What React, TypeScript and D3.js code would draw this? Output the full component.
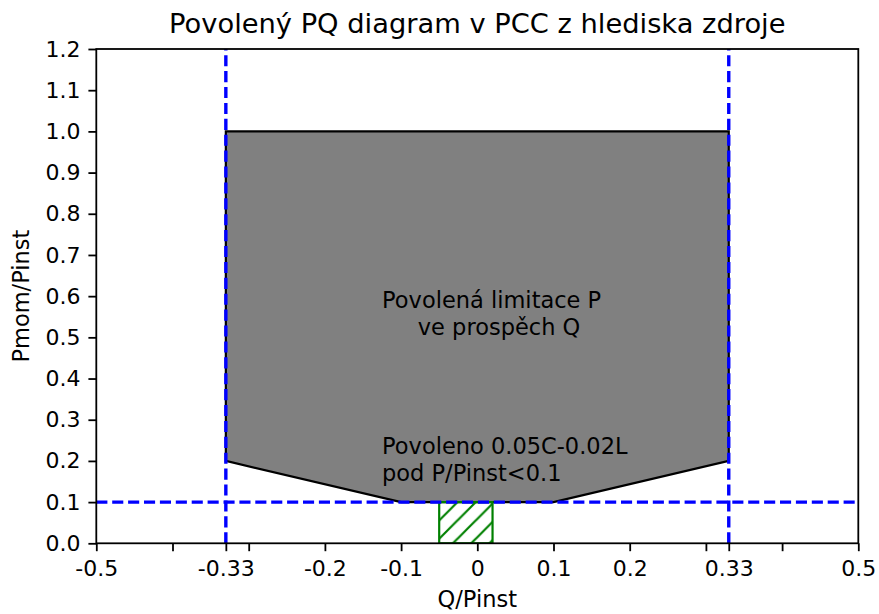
import React, { useEffect, useRef } from 'react';
import * as d3 from 'd3';

const W = 879;
const H = 614;
const PLOT = { left: 96.3, right: 858.3, top: 49, bottom: 543.3 };
const FONT = '"DejaVu Sans", sans-serif';

const TITLE = 'Povolený PQ diagram v PCC z hlediska zdroje';
const X_LABEL = 'Q/Pinst';
const Y_LABEL = 'Pmom/Pinst';

const X_DOMAIN = [-0.5, 0.5];
const Y_DOMAIN = [0, 1.2];
const X_TICKS = [-0.5, -0.4, -0.33, -0.3, -0.2, -0.1, 0, 0.1, 0.2, 0.3, 0.33, 0.4, 0.5];
const X_TICK_LABELS = ['-0.5', '', '-0.33', '', '-0.2', '-0.1', '0', '0.1', '0.2', '', '0.33', '', '0.5'];
const Y_TICKS = [0, 0.1, 0.2, 0.3, 0.4, 0.5, 0.6, 0.7, 0.8, 0.9, 1.0, 1.1, 1.2];

// allowed P-limitation region, vertices as (Q, P)
const REGION_Q = [-0.33, 0.33, 0.33, 0.1, -0.1, -0.33];
const REGION_P = [1.0, 1.0, 0.2, 0.1, 0.1, 0.2];

// reactive band allowed below P/Pinst < 0.1
const BAND_Q = [-0.05, 0.02];
const BAND_P = [0, 0.1];

// limit lines
const LIMIT_Q = [-0.33, 0.33];
const LIMIT_P = [0.1];

// annotations: anchor (Q, P) of first line baseline, and the lines
const NOTE_REGION_AT = [-0.125, 0.571];
const NOTE_REGION_LINES = ['Povolená limitace P', '     ve prospěch Q'];
const NOTE_BAND_AT = [-0.125, 0.217];
const NOTE_BAND_LINES = ['Povoleno 0.05C-0.02L', 'pod P/Pinst<0.1'];

const TICK_FONT = 22;
const LINE_GAP = 27;
const HATCH = 18.3;

export default function App() {
  const xAxisRef = useRef<SVGGElement>(null);
  const yAxisRef = useRef<SVGGElement>(null);

  const x = d3.scaleLinear().domain(X_DOMAIN).range([PLOT.left, PLOT.right]);
  const y = d3.scaleLinear().domain(Y_DOMAIN).range([PLOT.bottom, PLOT.top]);

  useEffect(() => {
    document.body.style.margin = '0';
    const xAxis = d3
      .axisBottom(x)
      .tickValues(X_TICKS)
      .tickFormat((_d, i) => X_TICK_LABELS[i])
      .tickSize(7.9)
      .tickSizeOuter(0)
      .tickPadding(9.3);
    const yAxis = d3
      .axisLeft(y)
      .tickValues(Y_TICKS)
      .tickFormat(d3.format('.1f'))
      .tickSize(7.9)
      .tickSizeOuter(0)
      .tickPadding(7.9);
    const gx = d3.select(xAxisRef.current!).call(xAxis);
    const gy = d3.select(yAxisRef.current!).call(yAxis);
    [gx, gy].forEach((g) => {
      g.select('.domain').remove();
      g.attr('font-family', FONT).attr('font-size', TICK_FONT);
      g.selectAll('.tick line').attr('stroke', '#000').attr('stroke-width', 1.8);
      g.selectAll('.tick text').attr('fill', '#000');
    });
  }, []);

  const regionPath = d3.line<number>()
    .x((i) => x(REGION_Q[i]))
    .y((i) => y(REGION_P[i]))(d3.range(REGION_Q.length)) + 'Z';

  const bx0 = x(BAND_Q[0]);
  const bx1 = x(BAND_Q[1]);
  const by0 = y(BAND_P[1]);
  const by1 = y(BAND_P[0]);

  const dash = '11.1 4.8';

  const note = (at: number[], lines: string[]) => (
    <text
      x={x(at[0])}
      y={y(at[1])}
      fontFamily={FONT}
      fontSize={22.5}
      fill="#000"
      style={{ whiteSpace: 'pre' }}
    >
      {lines.map((l, i) => (
        <tspan key={i} x={x(at[0])} y={y(at[1]) + i * LINE_GAP}>
          {l}
        </tspan>
      ))}
    </text>
  );

  return (
    <svg width={W} height={H} style={{ display: 'block', background: '#fff' }}>
      <defs>
        <pattern
          id="hatch"
          patternUnits="userSpaceOnUse"
          x={bx0}
          y={by0}
          width={HATCH}
          height={HATCH}
        >
          <path
            d={`M-2,2 L2,-2 M0,${HATCH} L${HATCH},0 M${HATCH - 2},${HATCH + 2} L${HATCH + 2},${HATCH - 2}`}
            stroke="#008000"
            strokeWidth={2.2}
          />
        </pattern>
        <clipPath id="plotClip">
          <rect x={PLOT.left} y={PLOT.top} width={PLOT.right - PLOT.left} height={PLOT.bottom - PLOT.top} />
        </clipPath>
      </defs>

      <text
        x={(PLOT.left + PLOT.right) / 2}
        y={33}
        textAnchor="middle"
        fontFamily={FONT}
        fontSize={27.3}
        fill="#000"
      >
        {TITLE}
      </text>

      <g clipPath="url(#plotClip)">
        <path d={regionPath} fill="#808080" stroke="#000" strokeWidth={2.2} strokeLinejoin="miter" />
        <rect x={bx0} y={by0} width={bx1 - bx0} height={by1 - by0} fill="url(#hatch)" stroke="#008000" strokeWidth={2.2} />
        {LIMIT_P.map((p) => (
          <line key={`h${p}`} x1={PLOT.left} x2={PLOT.right} y1={y(p)} y2={y(p)} stroke="#0000ff" strokeWidth={3.4} strokeDasharray={dash} />
        ))}
        {LIMIT_Q.map((q) => (
          <line key={`v${q}`} x1={x(q)} x2={x(q)} y1={PLOT.bottom} y2={PLOT.top} stroke="#0000ff" strokeWidth={3.4} strokeDasharray={dash} />
        ))}
      </g>

      {note(NOTE_REGION_AT, NOTE_REGION_LINES)}
      {note(NOTE_BAND_AT, NOTE_BAND_LINES)}

      <rect
        x={PLOT.left}
        y={PLOT.top}
        width={PLOT.right - PLOT.left}
        height={PLOT.bottom - PLOT.top}
        fill="none"
        stroke="#000"
        strokeWidth={1.8}
      />
      <g ref={xAxisRef} transform={`translate(0,${PLOT.bottom})`} />
      <g ref={yAxisRef} transform={`translate(${PLOT.left},0)`} />

      <text
        x={(PLOT.left + PLOT.right) / 2}
        y={607}
        textAnchor="middle"
        fontFamily={FONT}
        fontSize={22.5}
        fill="#000"
      >
        {X_LABEL}
      </text>
      <text
        transform={`translate(29,${(PLOT.top + PLOT.bottom) / 2}) rotate(-90)`}
        textAnchor="middle"
        fontFamily={FONT}
        fontSize={22.5}
        fill="#000"
      >
        {Y_LABEL}
      </text>
    </svg>
  );
}
